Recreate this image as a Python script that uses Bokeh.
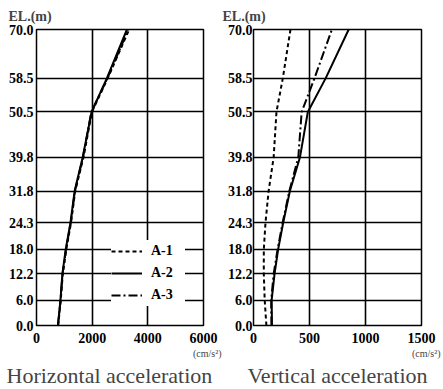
from bokeh.plotting import figure
from bokeh.layouts import row
from bokeh.models import Range1d, FixedTicker, Legend, Title
from bokeh.embed import file_html
from bokeh.resources import INLINE

# ---------------- data ----------------
elevation = [0.0, 6.0, 12.2, 18.0, 24.3, 31.8, 39.8, 50.5, 58.5, 70.0]
el_labels = ["0.0", "6.0", "12.2", "18.0", "24.3", "31.8", "39.8", "50.5", "58.5", "70.0"]

horiz_a1 = [780, 870, 945, 1070, 1240, 1390, 1690, 1990, 2560, 3330]
horiz_a2 = [770, 860, 930, 1050, 1220, 1370, 1660, 1980, 2530, 3250]
horiz_a3 = [770, 865, 935, 1060, 1230, 1380, 1670, 1970, 2550, 3300]

vert_a1 = [115, 100, 92, 92, 107, 135, 180, 205, 262, 330]
vert_a2 = [165, 162, 188, 220, 265, 325, 415, 485, 645, 850]
vert_a3 = [160, 158, 180, 215, 260, 320, 400, 430, 545, 700]

h_ticks = [0, 2000, 4000, 6000]
v_ticks = [0, 500, 1000, 1500]

series_names = ["A-1", "A-2", "A-3"]
dashes = ["4 3", "solid", "9 3 2 3"]

SERIF = "Liberation Serif"


def make_panel(width, border_left, border_right, xmax, xticks, ystandoff,
               el_offset, unit_offset, title_text, title_align, title_offset):
    p = figure(width=width, height=389, output_backend="svg", toolbar_location=None,
               x_range=Range1d(0, xmax), y_range=Range1d(0, 70),
               min_border_left=border_left, min_border_right=border_right,
               min_border_top=28, min_border_bottom=62)
    p.outline_line_color = "black"
    p.outline_line_width = 1.5
    p.background_fill_color = "white"
    p.border_fill_color = "white"
    p.xaxis.ticker = FixedTicker(ticks=xticks)
    p.yaxis.ticker = FixedTicker(ticks=elevation)
    p.yaxis.major_label_overrides = {e: l for e, l in zip(elevation, el_labels)}
    for ax in (p.xaxis, p.yaxis):
        ax.axis_line_color = None
        ax.major_tick_in = 0
        ax.major_tick_out = 0
        ax.minor_tick_line_color = None
        ax.major_label_text_font = SERIF
        ax.major_label_text_font_style = "bold"
        ax.major_label_text_font_size = "14px"
        ax.major_label_text_color = "black"
    p.xaxis.major_label_standoff = 7
    p.yaxis.major_label_standoff = ystandoff
    p.xgrid.ticker = FixedTicker(ticks=xticks)
    p.ygrid.ticker = FixedTicker(ticks=elevation)
    for g in (p.xgrid, p.ygrid):
        g.grid_line_color = "black"
        g.grid_line_width = 1.6
        g.grid_line_alpha = 1.0

    # "EL.(m)" above the vertical axis
    p.title.text = "EL.(m)"
    p.title.align = "left"
    p.title.offset = el_offset
    p.title.text_font = SERIF
    p.title.text_font_style = "bold"
    p.title.text_font_size = "14px"
    p.title.standoff = 12

    # unit under the last x tick
    p.add_layout(Title(text="(cm/s²)", align="right", offset=unit_offset,
                       text_font=SERIF, text_font_style="normal",
                       text_font_size="10px", text_line_height=0.6,
                       standoff=0), "below")
    # panel caption
    p.add_layout(Title(text=title_text, align=title_align, offset=title_offset,
                       text_font=SERIF, text_font_style="normal",
                       text_font_size="22px", standoff=4), "below")
    return p


# ---------------- left: horizontal ----------------
p1 = make_panel(222, 36, 19, 6000, h_ticks, 3, -28, -18,
                "Horizontal acceleration", "left", -30)
r_h = []
for vals, dash in zip([horiz_a1, horiz_a2, horiz_a3], dashes):
    r_h.append(p1.line(vals, elevation, line_color="black", line_width=2, line_dash=dash))

legend = Legend(items=[(n, [r]) for n, r in zip(series_names, r_h)],
                location=(75, 19))
legend.background_fill_color = "white"
legend.background_fill_alpha = 1.0
legend.border_line_color = None
legend.padding = 6
legend.margin = 0
legend.spacing = 0
legend.glyph_width = 31
legend.glyph_height = 22
legend.label_height = 22
legend.label_width = 34
legend.label_standoff = 9
legend.label_text_font = SERIF
legend.label_text_font_style = "bold"
legend.label_text_font_size = "14px"
legend.label_text_color = "black"
p1.add_layout(legend, "center")

# ---------------- right: vertical ----------------
p2 = make_panel(221, 31, 22, 1500, v_ticks, 1, -31, -19,
                "Vertical acceleration", "center", 0)
for vals, dash in zip([vert_a1, vert_a2, vert_a3], dashes):
    p2.line(vals, elevation, line_color="black", line_width=2, line_dash=dash)

layout = row(p1, p2, spacing=0)
open("out.html", "w").write(file_html(layout, INLINE))
